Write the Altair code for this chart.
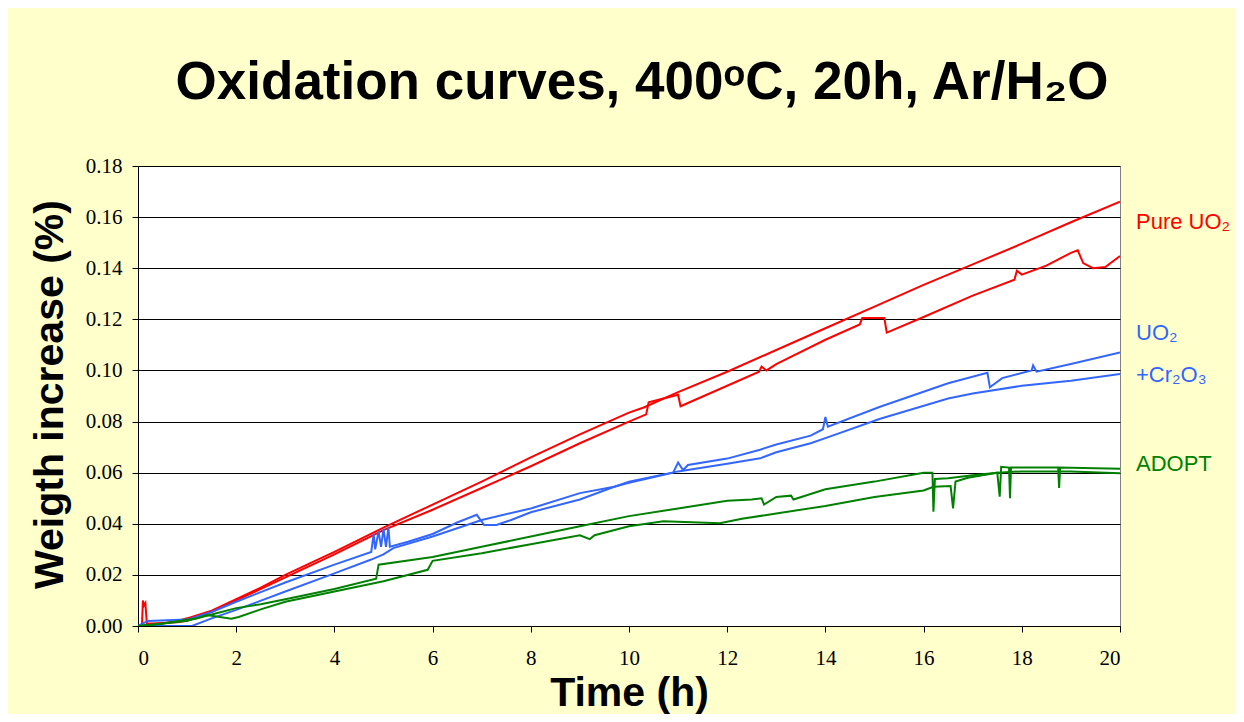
import altair as alt
import pandas as pd

# ---- data ----
red_a_t = [0, 0.5, 0.8, 1.0, 1.5, 2.0, 2.5, 3.0, 3.64, 4.0, 5.0, 6.0, 7.0, 8.0, 9.0, 10.0, 10.3, 11.0, 12.0, 13.0, 14.0, 15.0, 16.0, 17.0, 18.0, 19.0, 20.0]
red_a_v = [0, 0.001, 0.002, 0.003, 0.006, 0.0105, 0.015, 0.020, 0.0258, 0.029, 0.0385, 0.0475, 0.0565, 0.066, 0.075, 0.0835, 0.0855, 0.0915, 0.0995, 0.108, 0.1165, 0.125, 0.1335, 0.1415, 0.1496, 0.158, 0.166]

red_b_t = [0, 0.08, 0.1, 0.12, 0.15, 0.18, 0.3, 0.8, 1.0, 1.5, 2.0, 3.0, 4.0, 5.0, 6.0, 7.0, 8.0, 9.0, 10.0, 10.35, 10.4, 10.7, 11.0, 11.05, 12.0, 12.65, 12.7, 12.8, 13.0, 14.0, 14.7, 14.75, 15.2, 15.25, 16.0, 17.0, 17.85, 17.9, 18.0, 18.5, 19.0, 19.14, 19.25, 19.45, 19.7, 20.0]
red_b_v = [0, 0, 0.010, 0.008, 0.009, 0.001, 0.001, 0.0015, 0.002, 0.0055, 0.010, 0.019, 0.028, 0.0375, 0.0455, 0.054, 0.0625, 0.0715, 0.080, 0.0828, 0.0875, 0.089, 0.0905, 0.086, 0.094, 0.0995, 0.1015, 0.100, 0.1025, 0.112, 0.118, 0.1205, 0.1205, 0.1148, 0.1209, 0.1293, 0.1355, 0.139, 0.1375, 0.141, 0.146, 0.147, 0.142, 0.140, 0.1405, 0.1448]

blue_a_t = [0, 0.2, 1.0, 1.5, 2.0, 3.0, 4.0, 4.75, 4.8, 4.83, 4.9, 4.95, 5.0, 5.05, 5.1, 5.13, 5.5, 6.0, 6.5, 6.9, 7.05, 7.3, 7.6, 8.0, 9.0, 9.7, 10.0, 10.9, 11.0, 11.1, 11.2, 12.0, 12.67, 13.0, 13.7, 13.95, 14.0, 14.05, 15.1, 16.5, 17.3, 17.35, 17.6, 18.2, 18.23, 18.3, 19.0, 20.0]
blue_a_v = [0, 0.002, 0.0025, 0.0055, 0.0095, 0.017, 0.024, 0.029, 0.036, 0.030, 0.037, 0.031, 0.038, 0.031, 0.0385, 0.031, 0.033, 0.036, 0.0405, 0.0435, 0.0395, 0.0395, 0.0415, 0.0445, 0.0495, 0.0545, 0.056, 0.060, 0.064, 0.061, 0.063, 0.0655, 0.069, 0.071, 0.0745, 0.077, 0.0818, 0.078, 0.0857, 0.095, 0.0991, 0.0934, 0.097, 0.100, 0.102, 0.0995, 0.1025, 0.107]

blue_b_t = [0, 1.1, 1.5, 2.0, 3.0, 4.0, 4.75, 5.0, 5.2, 6.0, 7.0, 8.0, 9.0, 9.7, 10.0, 11.0, 12.0, 12.67, 13.0, 13.7, 14.0, 15.1, 16.5, 17.0, 18.0, 19.0, 20.0]
blue_b_v = [0, 0, 0.003, 0.0063, 0.0135, 0.0206, 0.026, 0.028, 0.0305, 0.035, 0.0415, 0.046, 0.052, 0.0545, 0.0565, 0.0605, 0.0635, 0.0656, 0.068, 0.0715, 0.0735, 0.081, 0.089, 0.091, 0.094, 0.096, 0.0986]

green_a_t = [0, 0.3, 1.0, 1.5, 2.0, 2.5, 3.0, 4.0, 4.85, 4.9, 6.0, 7.0, 8.0, 9.0, 10.0, 11.0, 12.0, 12.5, 12.7, 12.75, 13.0, 13.3, 13.35, 14.0, 15.0, 16.0, 16.18, 16.2, 16.23, 16.5, 17.0, 17.5, 18.0, 19.0, 20.0]
green_a_v = [0, 0.0005, 0.002, 0.0045, 0.007, 0.0085, 0.0105, 0.0145, 0.0185, 0.024, 0.027, 0.031, 0.035, 0.039, 0.043, 0.046, 0.049, 0.0495, 0.050, 0.0475, 0.0505, 0.051, 0.0495, 0.0535, 0.0565, 0.060, 0.060, 0.0447, 0.0575, 0.0578, 0.059, 0.060, 0.0605, 0.0605, 0.0598]

green_b_t = [0, 0.5, 1.2, 1.4, 1.9, 2.05, 2.5, 3.0, 4.0, 5.0, 5.9, 6.0, 7.0, 8.0, 9.0, 9.2, 9.3, 10.0, 10.7, 11.85, 12.3, 13.0, 14.0, 15.0, 16.0, 16.2, 16.55, 16.6, 16.65, 16.9, 17.5, 17.55, 17.58, 17.74, 17.76, 17.78, 18.74, 18.76, 18.78, 20.0]
green_b_v = [0, 0.001, 0.003, 0.0043, 0.0028, 0.0035, 0.0065, 0.0095, 0.0135, 0.0175, 0.022, 0.0255, 0.0285, 0.032, 0.0355, 0.034, 0.0355, 0.039, 0.041, 0.0402, 0.042, 0.044, 0.047, 0.0505, 0.053, 0.0545, 0.0548, 0.046, 0.0565, 0.058, 0.060, 0.0506, 0.0623, 0.062, 0.050, 0.062, 0.062, 0.054, 0.062, 0.0615]

group_names = ["pure", "cr", "adopt"]
group_colors = ["#FF0000", "#3366FF", "#008000"]

label_text = ["Pure UO\u2082", "UO\u2082", "+Cr\u2082O\u2083", "ADOPT"]
label_group = ["pure", "cr", "cr", "adopt"]
label_w = [0.158, 0.1147, 0.0982, 0.0634]
label_t = [20, 20, 20, 20]

x_ticks = [0, 2, 4, 6, 8, 10, 12, 14, 16, 18, 20]
y_ticks = [0.0, 0.02, 0.04, 0.06, 0.08, 0.10, 0.12, 0.14, 0.16, 0.18]

series = [
    ("red_a", "pure", red_a_t, red_a_v),
    ("red_b", "pure", red_b_t, red_b_v),
    ("blue_a", "cr", blue_a_t, blue_a_v),
    ("blue_b", "cr", blue_b_t, blue_b_v),
    ("green_a", "adopt", green_a_t, green_a_v),
    ("green_b", "adopt", green_b_t, green_b_v),
]
rows = []
for name, grp, ts, vs in series:
    for i, (t, v) in enumerate(zip(ts, vs)):
        rows.append({"series": name, "group": grp, "t": t, "w": v, "i": i})
df = pd.DataFrame(rows)

labels_df = pd.DataFrame({"label": label_text, "group": label_group, "w": label_w, "t": label_t})

color_scale = alt.Scale(domain=group_names, range=group_colors)
x_scale = alt.Scale(domain=[0, 20], nice=False, zero=False)
y_scale = alt.Scale(domain=[0, 0.18], nice=False)

lines = alt.Chart(df).mark_line(strokeWidth=2, clip=True).encode(
    x=alt.X("t:Q", scale=x_scale,
            axis=alt.Axis(values=x_ticks, title="Time (h)", grid=False, format="d",
                          labelPadding=15, titleY=79, titleBaseline="alphabetic")),
    y=alt.Y("w:Q", scale=y_scale,
            axis=alt.Axis(values=y_ticks, title="Weigth increase (%)", grid=True, format=".2f",
                          labelPadding=10,
                          titleX=-76, titleY=228, titleBaseline="alphabetic", titleAngle=-90,
                          titleAlign="center")),
    color=alt.Color("group:N", scale=color_scale, legend=None),
    detail="series:N",
    order="i:Q",
)

labels = alt.Chart(labels_df).mark_text(
    align="left", baseline="middle", dx=16, fontSize=22, font="Liberation Sans"
).encode(
    x=alt.X("t:Q", scale=x_scale),
    y=alt.Y("w:Q", scale=y_scale),
    text="label:N",
    color=alt.Color("group:N", scale=color_scale, legend=None),
)

chart = alt.layer(lines, labels).properties(
    width=982,
    height=460,
    title=alt.TitleParams(
        text="Oxidation curves, 400\u1d52C, 20h, Ar/H\u2082O",
        font="Liberation Sans", fontSize=53, fontWeight="bold", color="black",
        anchor="middle", frame="group", dx=13, offset=3, baseline="alphabetic",
    ),
    autosize=alt.AutoSizeParams(type="none"),
    padding={"left": 130, "top": 158, "right": 116, "bottom": 88},
).configure(
    background="#FFFFCC",
).configure_view(
    fill="white", stroke="#808080", strokeWidth=1,
).configure_axis(
    labelFont="Liberation Serif", labelFontSize=21, labelColor="black",
    titleFont="Liberation Sans", titleFontSize=41, titleFontWeight="bold", titleColor="black",
    domainColor="black", domainWidth=1, tickColor="black", tickSize=6, tickWidth=1,
    gridColor="black", gridWidth=1, gridOpacity=1,
)

chart.save("out.html", embed_options={"renderer": "svg", "actions": False})
